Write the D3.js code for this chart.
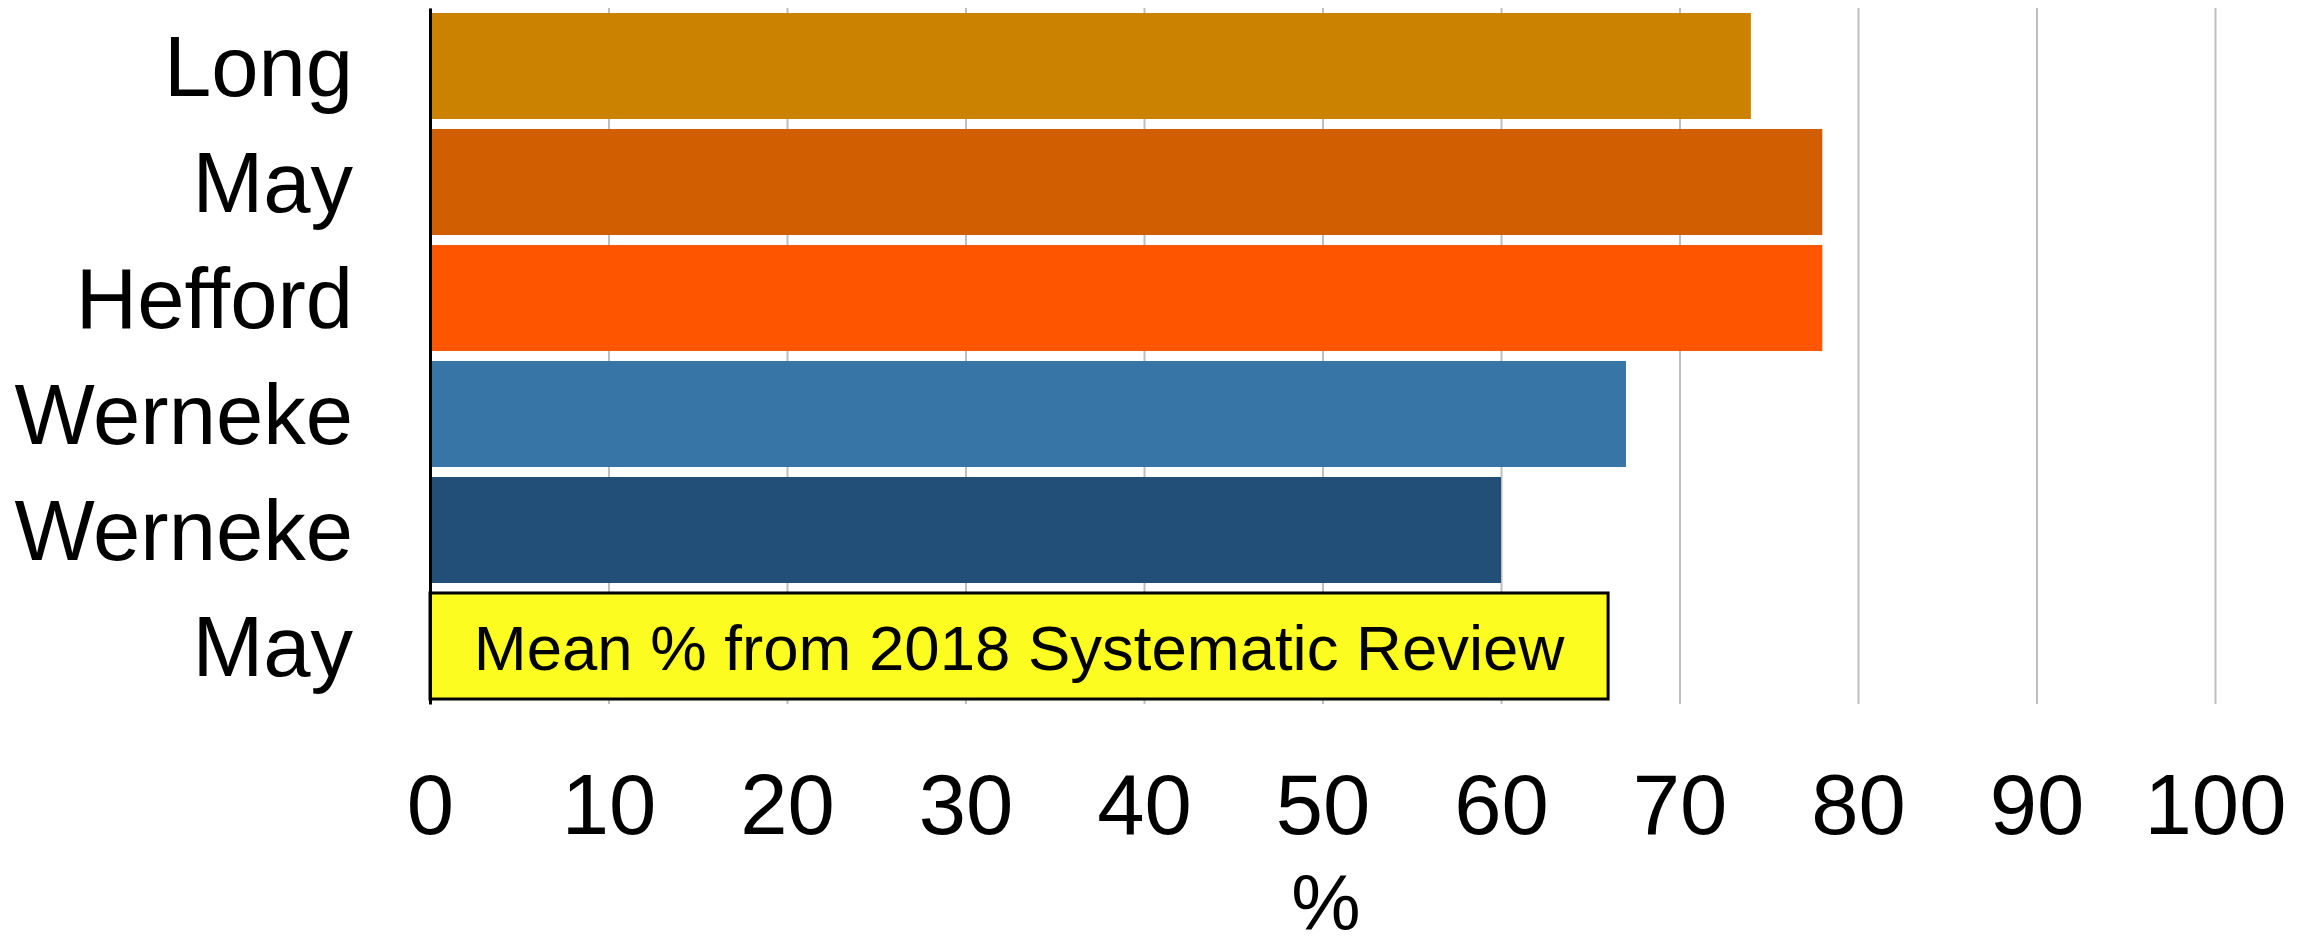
<!DOCTYPE html>
<html>
<head>
<meta charset="utf-8">
<script src="https://cdn.jsdelivr.net/npm/d3@7"></script>
<style>
body { margin: 0; background: #fff; }
text { font-family: Arial, "Liberation Sans", sans-serif; fill: #000; }
</style>
</head>
<body>
<svg id="main"></svg>
<script>
// data
var names = ['Long', 'May', 'Hefford', 'Werneke', 'Werneke', 'May'];
var values = [74, 78, 78, 67, 60, 66];
var colors = ['#cb8200', '#d15e00', '#fe5500', '#3875a7', '#214f78', '#fcfc20'];
var tickValues = [0, 10, 20, 30, 40, 50, 60, 70, 80, 90, 100];
var note = 'Mean % from 2018 Systematic Review';
var axisTitle = '%';

var width = 2316, height = 948;
var margin = {top: 8, right: 100, bottom: 244, left: 430};
var svg = d3.select('#main').attr('width', width).attr('height', height);

var x = d3.scaleLinear().domain([0, 100]).range([margin.left, 2215]);
var y = d3.scaleBand()
	.domain(d3.range(names.length))
	.range([margin.top, height - margin.bottom])
	.paddingInner(0.086)
	.paddingOuter(0.043);
var bottom = height - margin.bottom;

// grid
var grid = svg.append('g')
	.attr('transform', `translate(0,${bottom})`)
	.call(d3.axisBottom(x).tickValues(tickValues).tickSize(-(bottom - margin.top)).tickFormat(''));
grid.select('.domain').remove();
grid.selectAll('line').attr('stroke', '#bfbfbf').attr('stroke-width', 2);

// bars
svg.append('g').selectAll('rect')
	.data(values)
	.join('rect')
	.attr('x', x(0))
	.attr('y', (d, i) => y(i))
	.attr('width', d => x(d) - x(0))
	.attr('height', y.bandwidth())
	.attr('fill', (d, i) => colors[i])
	.attr('stroke', (d, i) => i === values.length - 1 ? '#000' : 'none')
	.attr('stroke-width', 3);

// note inside last bar
var last = values.length - 1;
svg.append('text')
	.attr('x', (x(0) + x(values[last])) / 2)
	.attr('y', y(last) + y.bandwidth() / 2)
	.attr('dy', '0.38em')
	.attr('text-anchor', 'middle')
	.style('font-size', '63.5px')
	.text(note);

// y axis
var yAxis = svg.append('g')
	.attr('transform', `translate(${margin.left},0)`)
	.call(d3.axisLeft(y).tickSize(0).tickSizeOuter(0).tickPadding(77).tickFormat(i => names[i]));
yAxis.select('.domain').attr('stroke', '#000').attr('stroke-width', 3);
yAxis.selectAll('text').style('font-size', '85px').attr('dy', '0.35em');

// x axis labels
var xAxis = svg.append('g')
	.attr('transform', `translate(0,${bottom})`)
	.call(d3.axisBottom(x).tickValues(tickValues).tickSize(0));
xAxis.select('.domain').remove();
xAxis.selectAll('text').style('font-size', '85px').attr('y', 130).attr('dy', 0);

svg.append('text')
	.attr('x', 1326)
	.attr('y', 930)
	.attr('text-anchor', 'middle')
	.style('font-size', '78px')
	.text(axisTitle);
</script>
</body>
</html>
